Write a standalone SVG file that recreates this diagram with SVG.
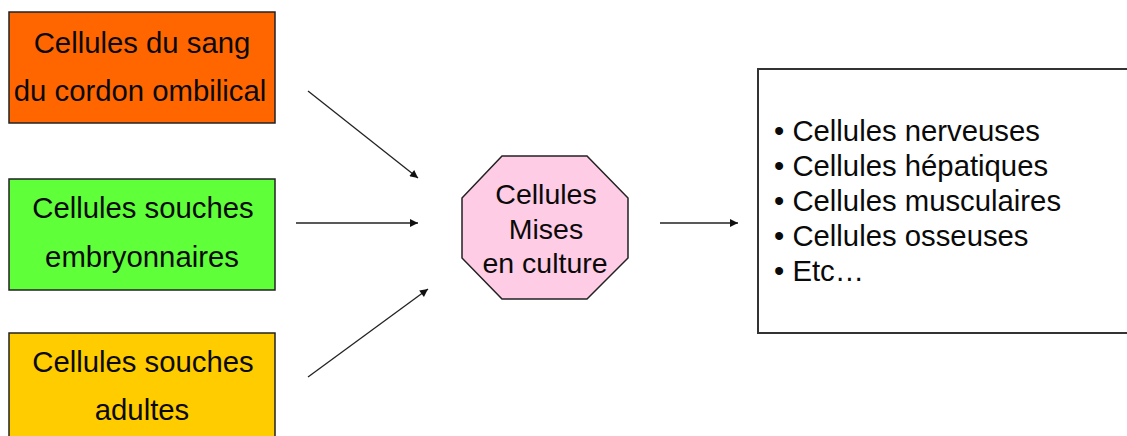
<svg xmlns="http://www.w3.org/2000/svg" width="1127" height="436" viewBox="0 0 1127 436">
  <style>
    .box { stroke: #222; stroke-width: 1.5; }
    .t { font-family: "Liberation Sans", Arial, sans-serif; font-size: 29.3px; fill: #0a0a0a; }
    .c { text-anchor: middle; }
    .conn { stroke: #222; stroke-width: 1.3; fill: none; marker-end: url(#arr); }
  </style>
  <defs>
    <marker id="arr" viewBox="0 0 10 10" refX="10" refY="5" markerWidth="11" markerHeight="8" markerUnits="userSpaceOnUse" orient="auto">
      <path d="M0,0 L10,5 L0,10 z" fill="#111"/>
    </marker>
  </defs>
  <rect width="1127" height="436" fill="#fff"/>

  <g id="node-sang">
    <rect class="box" x="9" y="12" width="266" height="111" fill="#FF6600"/>
    <text class="t c" x="142" y="53">Cellules du sang</text>
    <text class="t c" x="140" y="101">du cordon ombilical</text>
  </g>

  <g id="node-embryonnaires">
    <rect class="box" x="9" y="179" width="266" height="111" fill="#5FFF3A"/>
    <text class="t c" x="143" y="218">Cellules souches</text>
    <text class="t c" x="142" y="267">embryonnaires</text>
  </g>

  <g id="node-adultes">
    <rect class="box" x="9" y="333" width="266" height="111" fill="#FFCC00"/>
    <text class="t c" x="143" y="372">Cellules souches</text>
    <text class="t c" x="142" y="420">adultes</text>
  </g>

  <g id="node-culture">
    <polygon class="box" points="502,156 587,156 628,198 628,258 587,299 502,299 462,258 462,198" fill="#FFCCE5" stroke="#555"/>
    <text class="t c" x="546" y="204" style="font-size:28.5px">Cellules</text>
    <text class="t c" x="546" y="239" style="font-size:28.5px">Mises </text>
    <text class="t c" x="545" y="273" style="font-size:28.5px">en culture</text>
  </g>

  <g id="node-resultats">
    <rect x="758" y="69" width="380" height="264" fill="#fff" stroke="#333" stroke-width="2"/>
    <text class="t" x="774" y="141">• Cellules nerveuses</text>
    <text class="t" x="774" y="176">• Cellules hépatiques</text>
    <text class="t" x="774" y="211">• Cellules musculaires</text>
    <text class="t" x="774" y="246">• Cellules osseuses</text>
    <text class="t" x="774" y="281">• Etc…</text>
  </g>

  <g id="connectors">
    <line class="conn" x1="308" y1="91" x2="418" y2="178"/>
    <line class="conn" x1="296" y1="223" x2="418" y2="223"/>
    <line class="conn" x1="308" y1="377" x2="428" y2="289"/>
    <line class="conn" x1="660" y1="223" x2="738" y2="223"/>
  </g>
</svg>
